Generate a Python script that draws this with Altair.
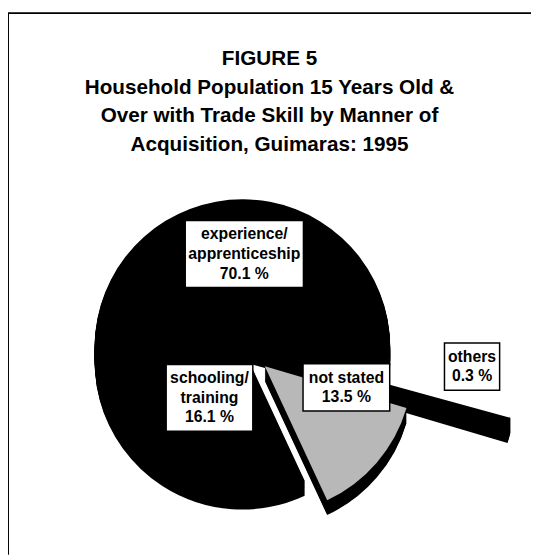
import math
import altair as alt
import pandas as pd

# ---------------- data ----------------
categories = ["experience/ apprenticeship", "others", "not stated", "schooling/ training"]
label_names = ["experience/\napprenticeship", "others", "not stated", "schooling/\ntraining"]
percents = [70.1, 0.3, 13.5, 16.1]
fills = ["#000000", "#000000", "#b8b8b8", "#000000"]

title_lines = [
    "FIGURE 5",
    "Household Population 15 Years Old &",
    "Over with Trade Skill by Manner of",
    "Acquisition, Guimaras: 1995",
]

# ---------------- layout (not data) ----------------
W, H = 531, 551            # whole drawing area (page minus 8px margin)
R = 150                    # pie radius, px
CX, CY = 238, 340          # pie centre, px
START_DEG = 213            # angle where the first slice starts (clockwise from 12 o'clock)
DEPTH = 15                 # thickness of the "3-D" side, px
EXPLODE = {"others": 0.85, "not stated": 0.2}
# label placement: (angle shift from slice middle in degrees, distance from centre in radii)
LABEL_POS = {
    "experience/ apprenticeship": (22.0, 0.63),
    "others": (-11.0, 1.56),
    "not stated": (-19.5, 0.755),
    "schooling/ training": (28.9, 0.41),
}
FONT = "Liberation Sans"
FS = 16
LH = 20
CHAR_W = 8.0

# ---------------- derived tables ----------------
total = sum(percents)
rows, labels = [], []
cum = 0.0
for cat, name, p in zip(categories, label_names, percents):
    t0, t1 = cum, cum + p
    cum = t1
    mid = math.radians(START_DEG + (t0 + t1) / 2 / total * 360)
    e = EXPLODE.get(cat, 0.0)
    ex, ey = e * math.sin(mid), -e * math.cos(mid)
    for k in list(range(DEPTH, 0, -1)) + [0]:
        rows.append({"cat": cat, "t0": t0, "t1": t1, "cx": ex, "cy": ey + k / R, "level": k})
    shift, f = LABEL_POS[cat]
    a = mid + math.radians(shift)
    lx, ly = f * math.sin(a), -f * math.cos(a)
    text = name + "\n" + f"{p:.1f} %"
    lines = text.split("\n")
    bw = (max(len(s) for s in lines) * CHAR_W + 8) / R
    bh = (len(lines) * LH + 8) / R
    labels.append({"cat": cat, "text": text, "lx": lx, "ly": ly,
                   "ty": ly - (len(lines) - 1) * LH / 2 / R,
                   "x0": lx - bw / 2, "x1": lx + bw / 2, "y0": ly - bh / 2, "y1": ly + bh / 2})

slices = pd.DataFrame(rows)
lab = pd.DataFrame(labels)

xs = alt.Scale(domain=[-CX / R, (W - CX) / R], range=[0, W], nice=False, zero=False)
ys = alt.Scale(domain=[-CY / R, (H - CY) / R], range=[0, H], nice=False, zero=False)
theta_scale = alt.Scale(domain=[0, total],
                        range=[math.radians(START_DEG), math.radians(START_DEG) + 2 * math.pi])

stroke_w = alt.condition(alt.datum.cat == "others", alt.value(8), alt.value(0))

side = alt.Chart(slices).transform_filter(alt.datum.level > 0).mark_arc(
    outerRadius=R, color="black", stroke="black"
).encode(
    x=alt.X("cx:Q", scale=xs, axis=None),
    y=alt.Y("cy:Q", scale=ys, axis=None),
    theta=alt.Theta("t0:Q", scale=theta_scale),
    theta2="t1:Q",
    strokeWidth=stroke_w,
)

top = alt.Chart(slices).transform_filter(alt.datum.level == 0).mark_arc(
    outerRadius=R, stroke="black"
).encode(
    x=alt.X("cx:Q", scale=xs, axis=None),
    y=alt.Y("cy:Q", scale=ys, axis=None),
    theta=alt.Theta("t0:Q", scale=theta_scale),
    theta2="t1:Q",
    fill=alt.Fill("cat:N", scale=alt.Scale(domain=categories, range=fills), legend=None),
    strokeWidth=stroke_w,
)

boxes = alt.Chart(lab).mark_rect(fill="white", stroke="black", strokeWidth=1.5).encode(
    x=alt.X("x0:Q", scale=xs, axis=None), x2="x1:Q",
    y=alt.Y("y0:Q", scale=ys, axis=None), y2="y1:Q",
)

texts = alt.Chart(lab).mark_text(
    font=FONT, fontWeight="bold", fontSize=FS, lineHeight=LH, lineBreak="\n",
    align="center", baseline="middle", color="black"
).encode(
    x=alt.X("lx:Q", scale=xs, axis=None),
    y=alt.Y("ty:Q", scale=ys, axis=None),
    text="text:N",
)

one = pd.DataFrame({"a": [0]})
frame_top = alt.Chart(one).mark_rule(color="black", strokeWidth=2).encode(
    x=alt.value(0), x2=alt.value(W), y=alt.value(1))
frame_left = alt.Chart(one).mark_rule(color="black", strokeWidth=2).encode(
    x=alt.value(0), y=alt.value(1), y2=alt.value(H))

chart = alt.layer(frame_top, frame_left, side, top, boxes, texts).properties(
    width=W, height=H,
    autosize=alt.AutoSizeParams(type="none"),
    padding=0,
    title=alt.Title(text=title_lines, font=FONT, fontSize=21, fontWeight="bold",
                    lineHeight=29, anchor="middle", baseline="top", offset=0, dy=145,
                    color="black"),
    background="white",
).configure_view(stroke=None)

chart.save("out.html", embed_options={"renderer": "svg", "actions": False})
